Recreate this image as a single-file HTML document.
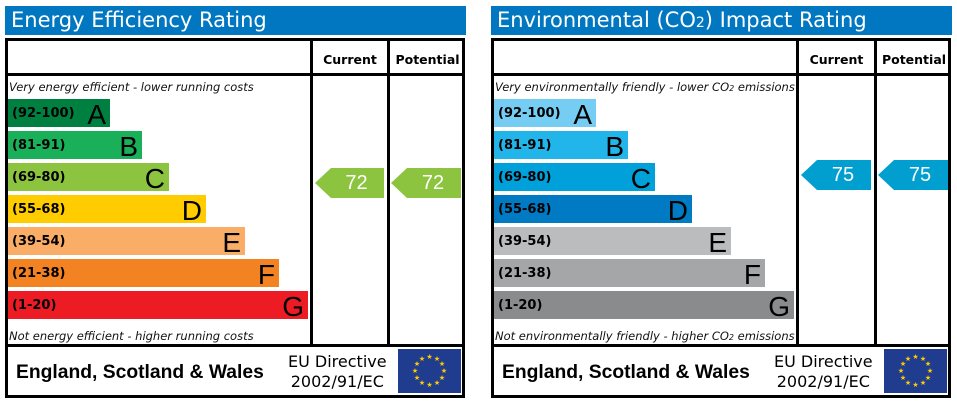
<!DOCTYPE html>
<html><head><meta charset="utf-8"><style>
body{margin:0;width:957px;height:404px;background:#fff;font-family:"DejaVu Sans","Liberation Sans",sans-serif;overflow:hidden;position:relative}
.p{position:absolute;top:0;width:461px;height:404px}
.t{position:absolute;left:0;top:6px;width:461px;height:29px;background:#0077c0;color:#fff;font-size:21px;line-height:29px;padding-left:6px;box-sizing:border-box}
.box{position:absolute;left:0;top:38px;width:460px;height:360px;border:3px solid #000;box-sizing:border-box}
.vl{position:absolute;top:38px;width:3px;height:309px;background:#000}
.hl{position:absolute;left:0;width:460px;height:3px;background:#000}
.h{position:absolute;top:52px;font-size:12.5px;font-weight:bold;text-align:center}
.it{position:absolute;left:4px;font-size:11.5px;font-style:italic;color:#111;white-space:nowrap}
.b{position:absolute;left:3px;height:28px;color:#000}
.b .r{position:absolute;left:4px;top:7px;font-size:13px;font-weight:bold}
.b .l{position:absolute;right:4px;top:0px;font-family:"Liberation Sans",sans-serif;font-size:28px}
.ar{position:absolute;height:30px;color:#fff;font-family:"Liberation Sans",sans-serif;font-size:20px;line-height:30px;text-align:center;padding-left:14px;box-sizing:border-box;clip-path:polygon(0 50%,16px 0,100% 0,100% 100%,16px 100%)}
.f1{position:absolute;left:11px;top:362px;font-family:"Liberation Sans",sans-serif;font-weight:bold;font-size:19.3px}
.f2{position:absolute;left:283px;top:352px;font-size:16px;line-height:20px;text-align:center}
.eu{position:absolute;left:393px;top:349px;width:63px;height:44px;background:#1f3c8f}
</style></head><body>

<div class="p" style="left:5px">
<div class="t">Energy Efficiency Rating</div>
<div class="box"></div>
<div class="vl" style="left:305px"></div><div class="vl" style="left:382px"></div>
<div class="hl" style="top:73px"></div><div class="hl" style="top:344px"></div>
<div class="h" style="left:308px;width:74px">Current</div>
<div class="h" style="left:385px;width:75px">Potential</div>
<div class="it" style="top:80px">Very energy efficient - lower running costs</div>
<div class="b" style="top:99px;width:102px;background:#008040"><span class="r">(92-100)</span><span class="l">A</span></div>
<div class="b" style="top:131px;width:134px;background:#1ab05a"><span class="r">(81-91)</span><span class="l">B</span></div>
<div class="b" style="top:163px;width:161px;background:#8cc43f"><span class="r">(69-80)</span><span class="l">C</span></div>
<div class="b" style="top:195px;width:198px;background:#ffcc00"><span class="r">(55-68)</span><span class="l">D</span></div>
<div class="b" style="top:227px;width:237px;background:#f9ad67"><span class="r">(39-54)</span><span class="l">E</span></div>
<div class="b" style="top:259px;width:271px;background:#f28222"><span class="r">(21-38)</span><span class="l">F</span></div>
<div class="b" style="top:291px;width:300px;background:#ed1c24"><span class="r">(1-20)</span><span class="l">G</span></div>
<div class="it" style="top:329px">Not energy efficient - higher running costs</div>
<div class="ar" style="left:310px;top:168px;width:69px;background:#8cc43f">72</div>
<div class="ar" style="left:386px;top:168px;width:70px;background:#8cc43f">72</div>
<div class="f1">England, Scotland &amp; Wales</div>
<div class="f2">EU Directive<br>2002/91/EC</div>
<div class="eu"><svg width="63" height="44"><g fill="#fc0" font-size="7" text-anchor="middle"><text x="31.5" y="10">★</text><text x="39" y="12">★</text><text x="44" y="17">★</text><text x="46" y="24">★</text><text x="44" y="31">★</text><text x="39" y="36">★</text><text x="31.5" y="38">★</text><text x="24" y="36">★</text><text x="19" y="31">★</text><text x="17" y="24">★</text><text x="19" y="17">★</text><text x="24" y="12">★</text></g></svg></div>
</div>

<div class="p" style="left:491px">
<div class="t">Environmental (CO<span style="font-size:14px">2</span>) Impact Rating</div>
<div class="box"></div>
<div class="vl" style="left:305px"></div><div class="vl" style="left:383px"></div>
<div class="hl" style="top:73px"></div><div class="hl" style="top:344px"></div>
<div class="h" style="left:308px;width:75px">Current</div>
<div class="h" style="left:386px;width:74px">Potential</div>
<div class="it" style="top:80px">Very environmentally friendly - lower CO<span style="font-size:8px">2</span> emissions</div>
<div class="b" style="top:99px;width:102px;background:#75cdf3"><span class="r">(92-100)</span><span class="l">A</span></div>
<div class="b" style="top:131px;width:134px;background:#22b5ea"><span class="r">(81-91)</span><span class="l">B</span></div>
<div class="b" style="top:163px;width:161px;background:#00a0da"><span class="r">(69-80)</span><span class="l">C</span></div>
<div class="b" style="top:195px;width:198px;background:#007ac2"><span class="r">(55-68)</span><span class="l">D</span></div>
<div class="b" style="top:227px;width:237px;background:#bbbcbe"><span class="r">(39-54)</span><span class="l">E</span></div>
<div class="b" style="top:259px;width:271px;background:#a5a6a8"><span class="r">(21-38)</span><span class="l">F</span></div>
<div class="b" style="top:291px;width:300px;background:#8a8b8d"><span class="r">(1-20)</span><span class="l">G</span></div>
<div class="it" style="top:329px">Not environmentally friendly - higher CO<span style="font-size:8px">2</span> emissions</div>
<div class="ar" style="left:310px;top:160px;width:70px;background:#009fd0">75</div>
<div class="ar" style="left:387px;top:160px;width:70px;background:#009fd0">75</div>
<div class="f1">England, Scotland &amp; Wales</div>
<div class="f2">EU Directive<br>2002/91/EC</div>
<div class="eu"><svg width="63" height="44"><g fill="#fc0" font-size="7" text-anchor="middle"><text x="31.5" y="10">★</text><text x="39" y="12">★</text><text x="44" y="17">★</text><text x="46" y="24">★</text><text x="44" y="31">★</text><text x="39" y="36">★</text><text x="31.5" y="38">★</text><text x="24" y="36">★</text><text x="19" y="31">★</text><text x="17" y="24">★</text><text x="19" y="17">★</text><text x="24" y="12">★</text></g></svg></div>
</div>
</body></html>
